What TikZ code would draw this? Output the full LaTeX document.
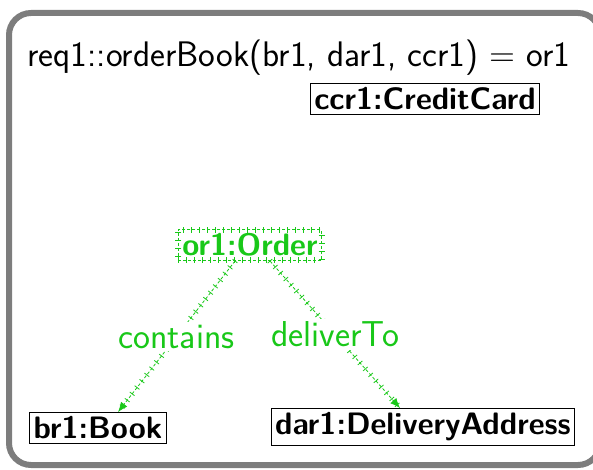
\documentclass[tikz,border=0pt]{standalone}
\usepackage{fontspec}
\setsansfont{Latin Modern Sans}
\renewcommand{\familydefault}{\sfdefault}
\usetikzlibrary{positioning}
\usetikzlibrary{arrows.meta,decorations.pathreplacing}

\definecolor{framegray}{RGB}{125,125,125}
\definecolor{newgreen}{RGB}{25,200,25}

\tikzset{
	obj/.style={draw, line width=1.2pt, inner sep=4pt, font=\fontsize{31}{36}\selectfont\bfseries},
	newobj/.style={obj, draw=newgreen, densely dashed, text=newgreen,
		postaction={draw=newgreen, solid, decorate,
			decoration={ticks, segment length=8pt, amplitude=3pt}}},
	newlink/.style={draw=newgreen, line width=0.8pt, densely dashed, -{Latex[length=10pt,width=8pt]},
		postaction={draw=newgreen, solid, -, decorate,
			decoration={ticks, segment length=8pt, amplitude=3pt}}},
	linklabel/.style={fill=white, text=newgreen, inner sep=3pt, font=\fontsize{36}{42}\selectfont}
}

\begin{document}
\begin{tikzpicture}[x=1pt, y=-1pt]
	\useasboundingbox (0,0) rectangle (593,470);
	\begin{scope}
		\clip (0,0) rectangle (593,470);
		\draw[framegray, line width=6pt, rounded corners=22pt] (9,13) rectangle (600,465);
	\end{scope}

	% operation call
	\node[anchor=west, font=\fontsize{35.5}{42}\selectfont] (call) at (24,58) {req1::orderBook(br1, dar1, ccr1) = or1};

	% objects
	\node[obj] (ccr1) at (425,99) {ccr1:CreditCard};
	\node[newobj] (or1) at (250,245) {or1:Order};
	\node[obj] (br1) at (98,428) {br1:Book};
	\node[obj] (dar1) at (423,427) {dar1:DeliveryAddress};

	% links
	\draw[newlink] ([xshift=-15pt]or1.south) -- node[linklabel] (contains) {contains} ([xshift=20pt]br1.north);
	\draw[newlink] ([xshift=20pt]or1.south) -- node[linklabel] (deliverTo) {deliverTo} ([xshift=-23pt]dar1.north);
\end{tikzpicture}
\end{document}
